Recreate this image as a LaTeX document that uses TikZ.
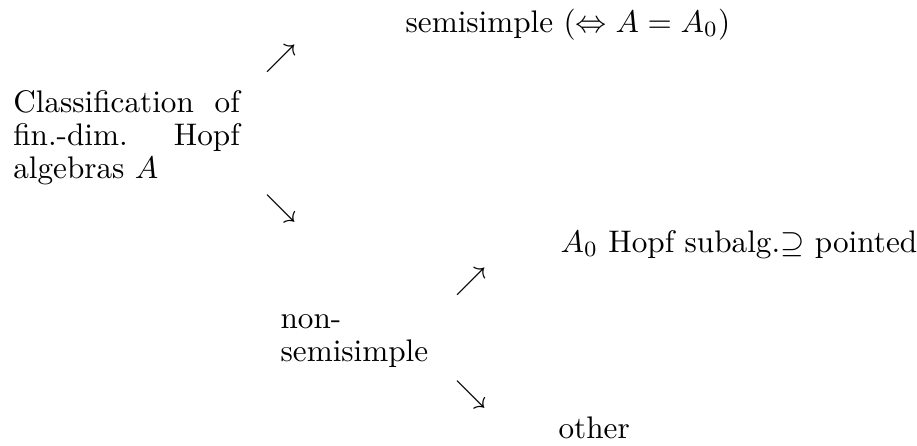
\documentclass[tikz,border=0pt]{standalone}
\usepackage{amsmath}
\usepackage{amssymb}
\usepackage{tikz}
\usetikzlibrary{positioning}
\tikzset{
  hfText/.style={inner sep=0pt, anchor=base west,
                 font=\fontsize{10}{10.7}\selectfont},
  hfPara/.style={hfText, text width=#1, align=justify},
  hfSym/.style={inner sep=0pt, anchor=center, font=\fontsize{10}{12}\selectfont}
}

\begin{document}
\begin{tikzpicture}[x=0.3205pt,y=-0.3205pt]
  \useasboundingbox (0,0) rectangle (917,445);
  \node[hfPara=72.6pt] (classif) at (12.7,112) {Classification of fin.-dim.\ Hopf algebras $A$};
  \node[hfText] (semisimple) at (405,32) {semisimple ($\Leftrightarrow A=A_0$)};
  \node[hfSym] (upA) at (281,59) {$\nearrow$};
  \node[hfSym] (downA) at (281,209) {$\searrow$};
  \node[hfPara=52pt] (nonsemi) at (280,328) {non-semisimple};
  \node[hfSym] (upB) at (471,282) {$\nearrow$};
  \node[hfSym] (downB) at (471,395) {$\searrow$};
  \node[hfText] (pointed) at (560,252) {$A_0$ Hopf subalg.$\supseteq$ pointed};
  \node[hfText] (other) at (558,438) {other};
\end{tikzpicture}
\end{document}
